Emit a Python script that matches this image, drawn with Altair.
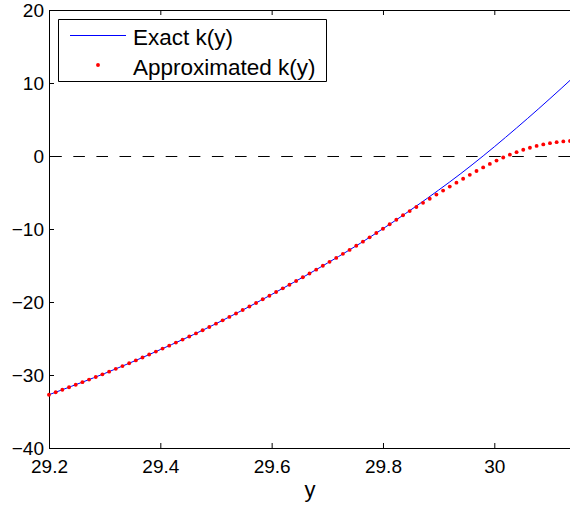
import altair as alt
import pandas as pd

# Exact k(y), sampled on a 0.02 grid
exact_y = [29.20, 29.22, 29.24, 29.26, 29.28, 29.30, 29.32, 29.34, 29.36, 29.38,
           29.40, 29.42, 29.44, 29.46, 29.48, 29.50, 29.52, 29.54, 29.56, 29.58,
           29.60, 29.62, 29.64, 29.66, 29.68, 29.70, 29.72, 29.74, 29.76, 29.78,
           29.80, 29.82, 29.84, 29.86, 29.88, 29.90, 29.92, 29.94, 29.96, 29.98,
           30.00, 30.02, 30.04, 30.06, 30.08, 30.10, 30.12, 30.14]
exact_k = [-32.70, -32.13, -31.56, -30.98, -30.39, -29.79, -29.16, -28.52, -27.87, -27.20,
           -26.52, -25.84, -25.15, -24.45, -23.72, -22.97, -22.20, -21.42, -20.62, -19.80,
           -18.97, -18.13, -17.29, -16.44, -15.57, -14.68, -13.78, -12.86, -11.92, -10.95,
           -9.96, -8.95, -7.91, -6.85, -5.77, -4.67, -3.55, -2.40, -1.21, 0.01,
           1.26, 2.54, 3.84, 5.16, 6.50, 7.86, 9.24, 10.64]

# Approximated k(y), sampled on a 0.012 grid
approx_y = [29.200, 29.212, 29.224, 29.236, 29.248, 29.260, 29.272, 29.284, 29.296, 29.308,
            29.320, 29.332, 29.344, 29.356, 29.368, 29.380, 29.392, 29.404, 29.416, 29.428,
            29.440, 29.452, 29.464, 29.476, 29.488, 29.500, 29.512, 29.524, 29.536, 29.548,
            29.560, 29.572, 29.584, 29.596, 29.608, 29.620, 29.632, 29.644, 29.656, 29.668,
            29.680, 29.692, 29.704, 29.716, 29.728, 29.740, 29.752, 29.764, 29.776, 29.788,
            29.800, 29.812, 29.824, 29.836, 29.848, 29.860, 29.872, 29.884, 29.896, 29.908,
            29.920, 29.932, 29.944, 29.956, 29.968, 29.980, 29.992, 30.004, 30.016, 30.028,
            30.040, 30.052, 30.064, 30.076, 30.088, 30.100, 30.112, 30.124, 30.136]
approx_k = [-32.70, -32.36, -32.02, -31.67, -31.33, -30.98, -30.63, -30.27, -29.91, -29.54,
            -29.16, -28.78, -28.39, -28.00, -27.60, -27.20, -26.79, -26.38, -25.98, -25.56,
            -25.15, -24.73, -24.30, -23.87, -23.42, -22.97, -22.51, -22.04, -21.58, -21.10,
            -20.62, -20.13, -19.63, -19.14, -18.63, -18.13, -17.63, -17.12, -16.61, -16.09,
            -15.57, -15.04, -14.50, -13.96, -13.41, -12.86, -12.30, -11.73, -11.14, -10.55,
            -9.96, -9.35, -8.74, -8.12, -7.55, -6.99, -6.42, -5.85, -5.29, -4.74,
            -4.19, -3.65, -3.11, -2.58, -2.06, -1.56, -1.08, -0.63, -0.21, 0.18,
            0.53, 0.85, 1.13, 1.38, 1.59, 1.76, 1.90, 2.00, 2.06]

x_ticks = [29.2, 29.4, 29.6, 29.8, 30.0]
k_ticks = [-40, -30, -20, -10, 0, 10, 20]
legend_labels = ["Exact k(y)", "Approximated k(y)"]

W, H = 521, 438
FONT = "Liberation Sans"

xs = alt.Scale(domain=[29.2, 30.136], nice=False, zero=False)
ks = alt.Scale(domain=[-40, 20], nice=False, zero=False)

exact_df = pd.DataFrame({"yv": exact_y, "k": exact_k})
approx_df = pd.DataFrame({"yv": approx_y, "k": approx_k})
one_row = alt.Data(values=[{"a": 1}])

x_axis = alt.Axis(values=x_ticks, format="~g", title="y", grid=False,
                  tickSize=0, labelPadding=9.5, labelFontSize=19, labelFont=FONT,
                  labelColor="black", labelFlush=False, domainColor="black",
                  domainWidth=1, titleFont=FONT, titleFontSize=22,
                  titleFontWeight="normal", titleColor="black", titlePadding=3)
k_axis = alt.Axis(values=k_ticks, title=None, grid=False, tickSize=0,
                  labelPadding=5.5, labelFontSize=19, labelFont=FONT,
                  labelColor="black", labelFlush=False, domainColor="black",
                  domainWidth=1)

X = alt.X("yv:Q", scale=xs, axis=x_axis)
Y = alt.Y("k:Q", scale=ks, axis=k_axis)

exact_line = alt.Chart(exact_df).mark_line(color="#0000ff", strokeWidth=1, clip=True).encode(x=X, y=Y)

approx_pts = alt.Chart(approx_df).mark_circle(color="#ff0000", size=15, opacity=1).encode(x=X, y=Y)

# dashed reference line at k = 0 (half-pixel offset keeps it crisp)
zero_line = alt.Chart(pd.DataFrame({"k": [0]})).mark_rule(
    color="black", strokeWidth=1, strokeDash=[11.6, 11.5], yOffset=0.5
).encode(y=Y)

# inward ticks on the bottom, top and left edges
xt_df = pd.DataFrame({"yv": x_ticks})
bottom_ticks = alt.Chart(xt_df).mark_rule(color="black", strokeWidth=1, xOffset=0.5).encode(
    x=X, y=alt.value(H), y2=alt.value(H - 5))
top_ticks = alt.Chart(xt_df).mark_rule(color="black", strokeWidth=1, xOffset=0.5).encode(
    x=X, y=alt.value(0), y2=alt.value(5))
left_ticks = alt.Chart(pd.DataFrame({"k": k_ticks})).mark_rule(
    color="black", strokeWidth=1, yOffset=0.5).encode(
    y=Y, x=alt.value(0), x2=alt.value(5))
top_border = alt.Chart(one_row).mark_rule(color="black", strokeWidth=1).encode(
    x=alt.value(0), x2=alt.value(W), y=alt.value(0.5))

# legend box
leg_box = alt.Chart(one_row).mark_rect(fill="white", stroke="black", strokeWidth=1).encode(
    x=alt.value(9.5), x2=alt.value(277.5), y=alt.value(9.5), y2=alt.value(71.5))
leg_line = alt.Chart(one_row).mark_rule(color="#0000ff", strokeWidth=1).encode(
    x=alt.value(21), x2=alt.value(77), y=alt.value(25.5))
leg_dot = alt.Chart(one_row).mark_circle(color="#ff0000", size=15, opacity=1).encode(
    x=alt.value(49), y=alt.value(55))
leg_text1 = alt.Chart(one_row).mark_text(
    align="left", baseline="alphabetic", font=FONT, fontSize=22.5, color="black"
).encode(x=alt.value(84), y=alt.value(35), text=alt.value(legend_labels[0]))
leg_text2 = alt.Chart(one_row).mark_text(
    align="left", baseline="alphabetic", font=FONT, fontSize=22.5, color="black"
).encode(x=alt.value(84), y=alt.value(65), text=alt.value(legend_labels[1]))

chart = alt.layer(
    zero_line, exact_line, approx_pts,
    bottom_ticks, top_ticks, left_ticks, top_border,
    leg_box, leg_line, leg_dot, leg_text1, leg_text2,
).properties(
    width=W, height=H,
    padding={"left": 49, "top": 10, "right": 0, "bottom": 58},
    autosize=alt.AutoSizeParams(type="none"),
    background="white",
).configure_view(stroke=None)

chart.save("out.html", embed_options={"renderer": "svg", "actions": False})
